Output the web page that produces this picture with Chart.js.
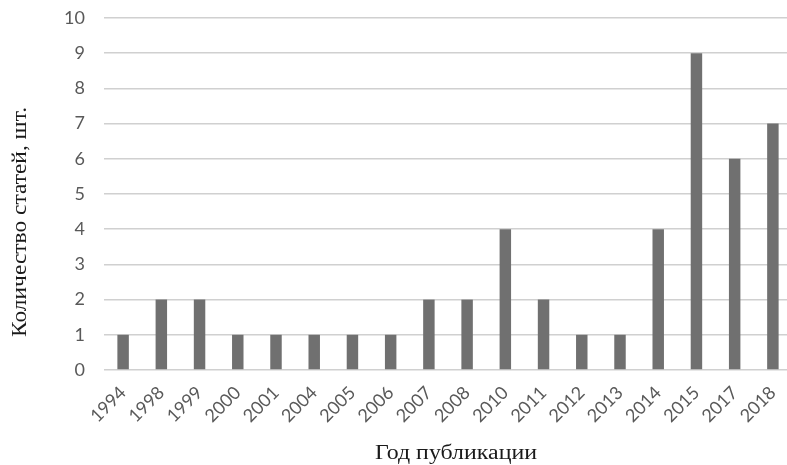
<!DOCTYPE html>
<html><head><meta charset="utf-8">
<script src="https://cdn.jsdelivr.net/npm/chart.js@4/dist/chart.umd.min.js"></script>
<style>
html,body{margin:0;padding:0;background:#fff;overflow:hidden;}
#wrap{width:792px;height:465px;position:relative;}
</style></head>
<body>
<div id="wrap"><canvas id="c"></canvas></div>
<script>
const categories = ['1994','1998','1999','2000','2001','2004','2005','2006','2007','2008','2010','2011','2012','2013','2014','2015','2017','2018'];
const articleCounts = [1,2,2,1,1,1,1,1,2,2,4,2,1,1,4,9,6,7];
const yTicks = [0,1,2,3,4,5,6,7,8,9,10];
const xTitle = 'Год публикации';
const yTitle = 'Количество статей, шт.';

const titlesPlugin = {
  id: 'titles',
  afterDraw(chart) {
    const ctx = chart.ctx;
    ctx.save();
    ctx.fillStyle = '#1a1a1a';
    ctx.font = '20px "Liberation Serif", serif';
    ctx.textAlign = 'center';
    ctx.textBaseline = 'middle';
    const w = ctx.measureText(xTitle).width;
    ctx.translate(456, 454);
    ctx.scale(162 / w, 1);
    ctx.fillText(xTitle, 0, 0);
    ctx.restore();
    ctx.save();
    ctx.fillStyle = '#1a1a1a';
    ctx.font = '19px "Liberation Serif", serif';
    ctx.textAlign = 'center';
    ctx.textBaseline = 'middle';
    const h = ctx.measureText(yTitle).width;
    ctx.translate(20, 222);
    ctx.rotate(-Math.PI / 2);
    ctx.scale(230 / h, 1.15);
    ctx.fillText(yTitle, 0, 0);
    ctx.restore();
  }
};

new Chart(document.getElementById('c'), {
  type: 'bar',
  data: {
    labels: categories,
    datasets: [{
      data: articleCounts,
      backgroundColor: '#707070',
      categoryPercentage: 1,
      barPercentage: 0.3
    }]
  },
  options: {
    responsive: true,
    maintainAspectRatio: false,
    animation: false,
    layout: { padding: { top: 18, right: 0, bottom: 0, left: 0 } },
    plugins: { legend: { display: false }, tooltip: { enabled: false } },
    scales: {
      x: {
        grid: { display: false, drawTicks: false },
        border: { display: false },
        ticks: {
          color: '#595959',
          font: { family: 'Lato', size: 18 },
          maxRotation: 45, minRotation: 45,
          padding: 12,
          autoSkip: false
        },
        afterFit(s) { s.height = 95; s.paddingLeft = 0; s.paddingRight = 0; }
      },
      y: {
        min: 0, max: 10,
        afterBuildTicks(s) { s.ticks = yTicks.map(v => ({ value: v })); },
        grid: { color: '#d0d0d0', lineWidth: 1.5, drawTicks: false },
        border: { display: false },
        ticks: {
          color: '#595959',
          font: { family: 'Lato', size: 18 },
          padding: 19
        },
        afterFit(s) { s.width = 104; s.paddingTop = 0; s.paddingBottom = 0; }
      }
    }
  },
  plugins: [titlesPlugin]
});
</script>
</body></html>
